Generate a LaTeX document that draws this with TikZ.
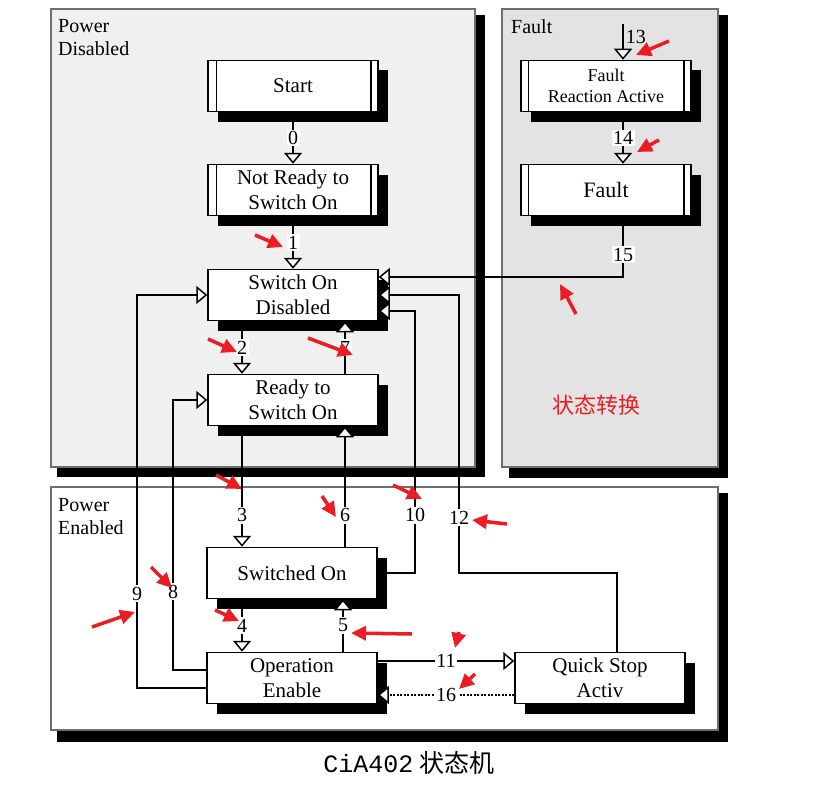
\documentclass[tikz,border=0pt]{standalone}
\usepackage{fontspec}
\setmainfont{Liberation Serif}
\newfontfamily\cjk{Noto Sans CJK SC}
\newfontfamily\capfont{Liberation Mono}
\usetikzlibrary{arrows.meta,shadows}

\definecolor{paneldis}{RGB}{240,240,240}
\definecolor{panelflt}{RGB}{227,227,227}
\definecolor{frame}{RGB}{110,110,110}
\definecolor{markred}{RGB}{236,28,36}

\begin{document}
\begin{tikzpicture}[x=1pt,y=-1pt,
    state/.style={draw,fill=white,line width=1.5pt,minimum width=170pt,minimum height=51pt,
        align=center,inner sep=0pt,font=\fontsize{21}{25}\selectfont,
        drop shadow={shadow xshift=10pt,shadow yshift=-10pt,fill=black,opacity=1}},
    bar/.style={line width=1.5pt},
    trans/.style={line width=1.5pt,-{Triangle[fill=white,length=11pt,width=18pt]}},
    lbl/.style={fill=white,inner sep=1.5pt,font=\fontsize{20}{20}\selectfont},
    pointer/.style={draw=markred,line width=3.5pt,-{Triangle[length=15pt,width=14pt]}},
    panellabel/.style={anchor=north west,align=left,inner sep=0pt,font=\fontsize{20}{23}\selectfont}]
    \useasboundingbox[fill=white] (0,0) rectangle (814,792);

    % panels
    \fill (57,15) rectangle (485,477);
    \filldraw[fill=paneldis,draw=frame,line width=1.2pt] (51,9) rectangle (475,467);
    \fill (509,15) rectangle (728,478);
    \filldraw[fill=panelflt,draw=frame,line width=1.2pt] (502,9) rectangle (718,467);
    \fill (57,493) rectangle (728,742);
    \filldraw[fill=white,draw=frame,line width=1.2pt] (51,487) rectangle (718,730);
    \node[panellabel] (pdis) at (58,19) {Power\\Disabled};
    \node[panellabel] (pflt) at (511,19) {Fault};
    \node[panellabel] (pen) at (58,498) {Power\\Enabled};

    % states
    \node[state] (start) at (293,86)  {Start};
    \node[state] (nrdy)  at (293,190) {Not Ready to\\Switch On};
    \node[state] (sod)   at (293,295) {Switch On\\Disabled};
    \node[state] (rtso)  at (293,400) {Ready to\\Switch On};
    \node[state] (swon)  at (292,573) {Switched On};
    \node[state] (open)  at (292,678) {Operation\\Enable};
    \node[state] (qsa)   at (600,678) {Quick Stop\\Activ};
    \node[state,font=\fontsize{18}{21}\selectfont] (fra) at (606,86) {Fault\\Reaction Active};
    \node[state,font=\fontsize{22}{26}\selectfont] (flt) at (606,190) {Fault};

    \draw[bar] ([xshift=9pt]start.north west) -- ([xshift=9pt]start.south west);
    \draw[bar] ([xshift=-8pt]start.north east) -- ([xshift=-8pt]start.south east);
    \draw[bar] ([xshift=9pt]nrdy.north west) -- ([xshift=9pt]nrdy.south west);
    \draw[bar] ([xshift=-8pt]nrdy.north east) -- ([xshift=-8pt]nrdy.south east);
    \draw[bar] ([xshift=8pt]fra.north west) -- ([xshift=8pt]fra.south west);
    \draw[bar] ([xshift=-8pt]fra.north east) -- ([xshift=-8pt]fra.south east);
    \draw[bar] ([xshift=8pt]flt.north west) -- ([xshift=8pt]flt.south west);
    \draw[bar] ([xshift=-8pt]flt.north east) -- ([xshift=-8pt]flt.south east);

    % transitions
    \draw[trans] (start) -- node[lbl] {0} (nrdy);
    \draw[trans] (nrdy) -- node[lbl] {1} (sod);
    \draw[trans] ([xshift=-51pt]sod.south) -- node[lbl] {2} ([xshift=-51pt]rtso.north);
    \draw[trans] ([xshift=52pt]rtso.north) -- node[lbl] {7} ([xshift=52pt]sod.south);
    \draw[trans] ([xshift=-51pt]rtso.south) -- node[lbl,pos=0.74] {3} ([xshift=-50pt]swon.north);
    \draw[trans] ([xshift=53pt]swon.north) -- node[lbl,pos=0.26] {6} ([xshift=52pt]rtso.south);
    \draw[trans] ([xshift=-50pt]swon.south) -- node[lbl] {4} ([xshift=-50pt]open.north);
    \draw[trans] ([xshift=51pt]open.north) -- node[lbl] {5} ([xshift=51pt]swon.south);
    \draw[trans] (swon.east) -- (415,573) -- node[lbl,pos=0.22] {10} (415,311) -- ([yshift=-16pt]sod.east);
    \draw[trans] ([xshift=17pt]qsa.north) -- (617,573) -- (459,573) -- node[lbl,pos=0.2] {12} (459,295) -- (sod.east);
    \draw[trans] ([xshift=17pt]flt.south) -- node[lbl,pos=0.63] {15} (623,277) -- ([yshift=18pt]sod.east);
    \draw[trans] ([yshift=-10pt]open.west) -- (137,688) -- node[lbl,pos=0.24] {9} (137,295) -- (sod.west);
    \draw[trans] ([yshift=8pt]open.west) -- (173,670) -- node[lbl,pos=0.29] {8} (173,400) -- (rtso.west);
    \draw[trans] ([yshift=17pt]open.east) -- node[lbl] {11} ([yshift=17pt]qsa.west);
    \draw[trans,dash pattern=on 2pt off 1.5pt] ([yshift=-17pt]qsa.west) -- node[lbl] {16} ([yshift=-17pt]open.east);
    \coordinate (in13) at (623,24);
    \draw[trans] (in13) -- node[anchor=west,pos=0.35,inner sep=2pt,font=\fontsize{20}{20}\selectfont] {13} ([xshift=17pt]fra.north);
    \draw[trans] ([xshift=17pt]fra.south) -- node[lbl] {14} ([xshift=17pt]flt.north);

    % notes
    \node[text=markred,font=\cjk\fontsize{22}{22}\selectfont] (note) at (596,405) {状态转换};
    \node[font=\fontsize{25}{25}\selectfont] (caption) at (409,763) {{\capfont CiA402} {\cjk 状态机}};

    \draw[pointer] (255,235) -- (283,247);
    \draw[pointer] (208,339) -- (237,352);
    \draw[pointer] (308,338) -- (353,355);
    \draw[pointer] (216,475) -- (242,489);
    \draw[pointer] (322,496) -- (336,517);
    \draw[pointer] (393,485) -- (422,499);
    \draw[pointer] (507,524) -- (472,520);
    \draw[pointer] (151,567) -- (172,588);
    \draw[pointer] (92,627) -- (135,612);
    \draw[pointer] (215,610) -- (239,621);
    \draw[pointer] (412,634) -- (351,633);
    \draw[pointer] (459,632) -- (455,648);
    \draw[pointer] (475,674) -- (459,689);
    \draw[pointer] (576,314) -- (560,284);
    \draw[pointer] (669,41) -- (636,55);
    \draw[pointer] (659,140) -- (637,152);
\end{tikzpicture}
\end{document}
